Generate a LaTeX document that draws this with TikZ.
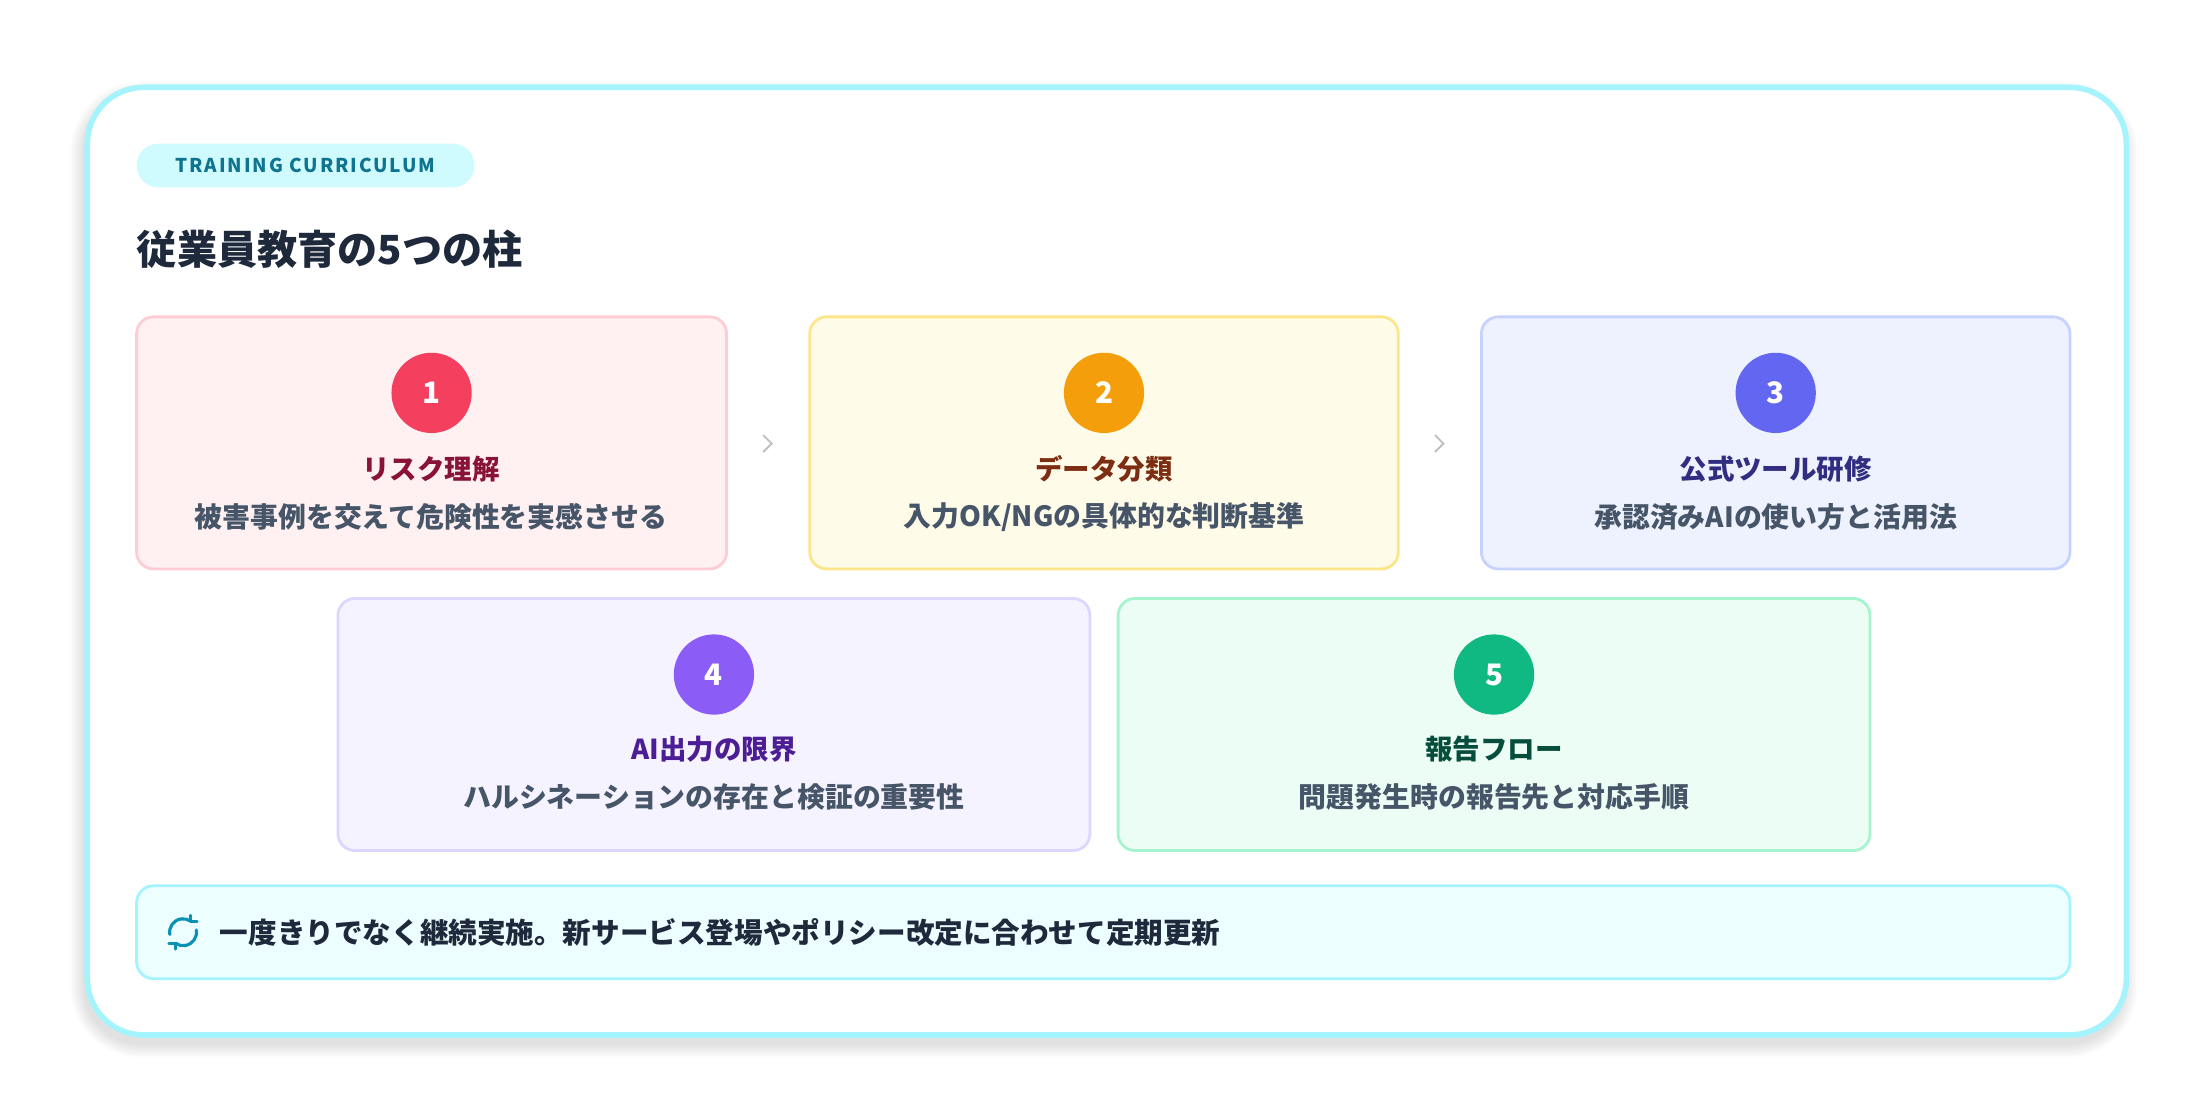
\documentclass[tikz,border=0pt]{standalone}
\usepackage{fontspec}
\setmainfont{Noto Sans CJK JP}
\usetikzlibrary{arrows.meta}
\definecolor{cyanb}{HTML}{A5F3FC}
\definecolor{ink}{HTML}{1E293B}
\definecolor{desc}{HTML}{475569}
\definecolor{teal}{HTML}{0E7490}
\definecolor{iconc}{HTML}{0891B2}
\definecolor{tagf}{HTML}{CFFAFE}
\definecolor{botf}{HTML}{ECFEFF}
\tikzset{
 card/.style={rounded corners=12pt,line width=2pt},
 num/.style={circle,minimum size=57pt,inner sep=0pt,text=white,font=\fontsize{21}{21}\selectfont\bfseries},
 ttl/.style={font=\fontsize{19.5}{20}\selectfont\bfseries},
 dsc/.style={text=desc,font=\fontsize{19.8}{21}\selectfont\bfseries},
 chev/.style={draw=gray!50,line width=1.3pt},
 ico/.style={line width=2.2pt,draw=iconc,line cap=round,line join=round}
}
\begin{document}
\begin{tikzpicture}[x=1pt,y=-1pt]
\useasboundingbox (0,0) rectangle (1568,793);
\fill[white] (0,0) rectangle (1568,793);
\foreach \i in {1,...,10}{
 \fill[black,opacity=0.012,rounded corners={40pt+\i pt}] (60-\i,68-\i) rectangle (1508+\i,741+\i);
}
\node[draw=cyanb,line width=4pt,fill=white,rounded corners=40pt,minimum width=1448pt,minimum height=673pt,anchor=north west] (outer) at (60,60) {};
\node[fill=tagf,rounded corners=15.5pt,minimum width=240pt,minimum height=31pt,text=teal,font=\fontsize{13.5}{14}\selectfont\bfseries\addfontfeature{LetterSpace=10}] (tag) at (217,117.5) {TRAINING CURRICULUM};
\node[anchor=west,text=ink,font=\fontsize{28.5}{30}\selectfont\bfseries,inner sep=0pt] (title) at (97,177) {従業員教育の5つの柱};
\newcommand{\pbox}[9]{%
 \definecolor{bf}{HTML}{#6}\definecolor{bd}{HTML}{#7}\definecolor{cc}{HTML}{#8}\definecolor{tc}{HTML}{#9}%
 \draw[card,fill=bf,draw=bd] (#2,#3) rectangle (#4,#3+179);
 \node[num,fill=cc] (#1n) at ({(#2+#4)/2},#3+54) {#5};
}
\pbox{b1}{97}{225}{516}{1}{FFF1F2}{FECDD3}{F43F5E}{881337}
\node[ttl,text=tc] (b1t) at (306,333) {リスク理解};
\node[dsc] (b1d) at (306,367) {被害事例を交えて危険性を実感させる};
\pbox{b2}{575}{225}{993}{2}{FEFCE8}{FDE68A}{F59E0B}{7C2D12}
\node[ttl,text=tc] (b2t) at (784,333) {データ分類};
\node[dsc] (b2d) at (784,367) {入力OK/NGの具体的な判断基準};
\pbox{b3}{1052}{225}{1470}{3}{EEF2FF}{C7D2FE}{6366F1}{312E81}
\node[ttl,text=tc] (b3t) at (1261,333) {公式ツール研修};
\node[dsc] (b3d) at (1261,367) {承認済みAIの使い方と活用法};
\pbox{b4}{240}{425}{774}{4}{F5F3FF}{DDD6FE}{8B5CF6}{4C1D95}
\node[ttl,text=tc] (b4t) at (507,532) {AI出力の限界};
\node[dsc] (b4d) at (507,566) {ハルシネーションの存在と検証の重要性};
\pbox{b5}{794}{425}{1328}{5}{ECFDF5}{A7F3D0}{10B981}{064E3B}
\node[ttl,text=tc] (b5t) at (1061,532) {報告フロー};
\node[dsc] (b5d) at (1061,566) {問題発生時の報告先と対応手順};
\draw[chev] (542,309) -- (548,315) -- (542,321);
\draw[chev] (1019,309) -- (1025,315) -- (1019,321);
\draw[card,fill=botf,draw=cyanb] (97,629) rectangle (1470,695);
\begin{scope}[shift={(130,662)},x=1pt,y=1pt]
\draw[ico] (-9.4,-1.6) arc[start angle=190,end angle=55,radius=9.5];
\draw[ico] (9.4,1.6) arc[start angle=10,end angle=-125,radius=9.5];
\draw[ico] (5.5,12) -- (5.5,7.8) -- (10,7.8);
\draw[ico] (-5.5,-12) -- (-5.5,-7.8) -- (-10,-7.8);
\end{scope}
\node[anchor=west,text=ink,font=\fontsize{20.3}{21}\selectfont\bfseries,inner sep=0pt] (note) at (156,662) {一度きりでなく継続実施。新サービス登場やポリシー改定に合わせて定期更新};
\end{tikzpicture}
\end{document}
